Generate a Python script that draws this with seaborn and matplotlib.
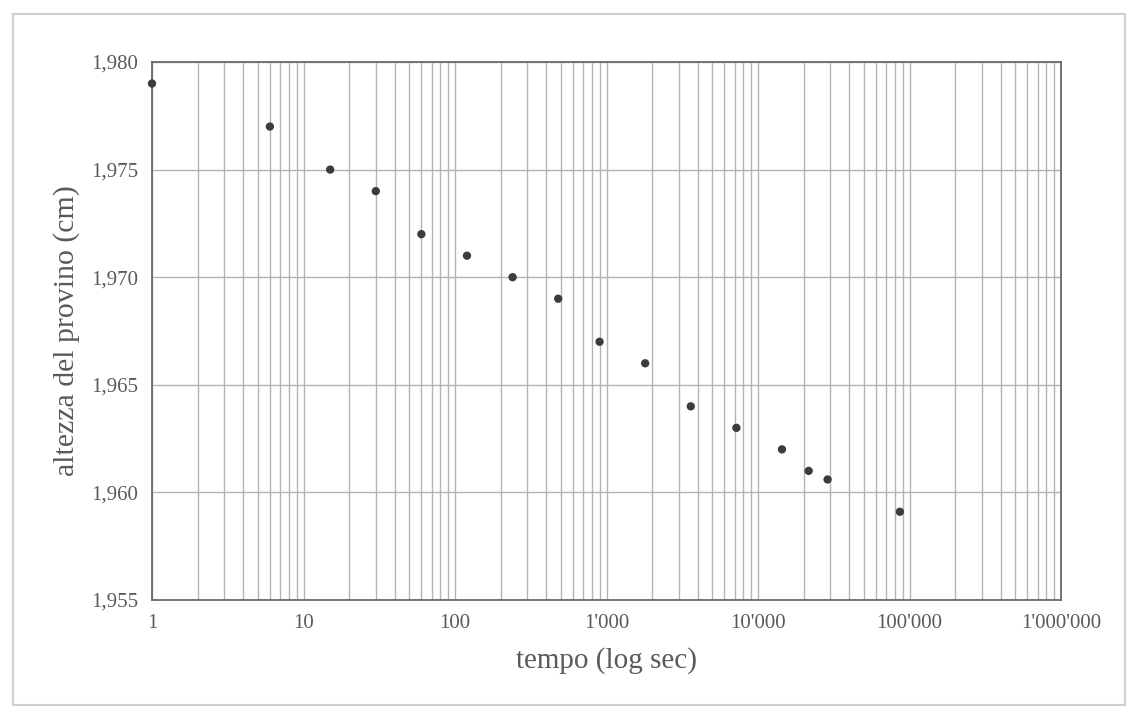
import matplotlib
matplotlib.use("Agg")
import matplotlib.pyplot as plt
import matplotlib.ticker as mticker
from matplotlib.patches import Rectangle
import seaborn as sns
import pandas as pd

# Data
tempo_sec = [1, 6, 15, 30, 60, 120, 240, 480, 900, 1800, 3600, 7200, 14400, 21600, 28800, 86400]
altezza_cm = [1.979, 1.977, 1.975, 1.974, 1.972, 1.971, 1.970, 1.969, 1.967, 1.966,
              1.964, 1.963, 1.962, 1.961, 1.9606, 1.9591]
y_ticks = [1.955, 1.960, 1.965, 1.970, 1.975, 1.980]
x_ticks = [1, 10, 100, 1000, 10000, 100000, 1000000]
x_tick_labels = ["1", "10", "100", "1'000", "10'000", "100'000", "1'000'000"]
x_label = "tempo (log sec)"
y_label = "altezza del provino (cm)"

sns.set_style("white")
plt.rcParams['font.family'] = ['Liberation Serif', 'DejaVu Serif']

text_color = "#5a5a5a"
grid_color = "#b4b4b4"
spine_color = "#6a6a6a"

fig = plt.figure(figsize=(11.27, 7.13), dpi=100)
ax = fig.add_axes([152/1127, 1 - 600/713, 909/1127, 538/713])

df = pd.DataFrame({"tempo": tempo_sec, "altezza": altezza_cm})
sns.scatterplot(data=df, x="tempo", y="altezza", ax=ax, color="#3c3c3c",
                s=36, edgecolor="none", zorder=5, clip_on=False)

ax.set_xscale("log")
ax.set_xlim(1, 1e6)
ax.set_ylim(1.955, 1.980)

ax.set_xticks(x_ticks)
ax.set_xticklabels(x_tick_labels)
ax.xaxis.set_minor_locator(mticker.LogLocator(base=10, subs=range(2, 10), numticks=20))
ax.xaxis.set_minor_formatter(mticker.NullFormatter())
ax.set_yticks(y_ticks)
ax.set_yticklabels([f"{v:.3f}".replace(".", ",") for v in y_ticks])

ax.grid(True, which="major", axis="both", color=grid_color, linewidth=1.0)
ax.grid(True, which="minor", axis="x", color=grid_color, linewidth=1.0)
ax.set_axisbelow(True)

for sp in ax.spines.values():
    sp.set_color(spine_color)
    sp.set_linewidth(1.3)

ax.tick_params(axis="both", which="major", length=4, width=1, color=spine_color,
               labelcolor=text_color, labelsize=15, direction="out", pad=6)
ax.tick_params(axis="x", which="minor", length=0)

ax.set_xlabel(x_label, fontsize=21, color=text_color, labelpad=10)
ax.set_ylabel(y_label, fontsize=21.5, color=text_color, labelpad=8)

# outer frame around the chart
fig.patches.append(Rectangle((13/1127, 1 - 705/713), (1125-13)/1127, (705-14)/713,
                             transform=fig.transFigure, fill=False,
                             edgecolor="#d0d0d0", linewidth=1.5))

fig.savefig("out.png", dpi=100)
